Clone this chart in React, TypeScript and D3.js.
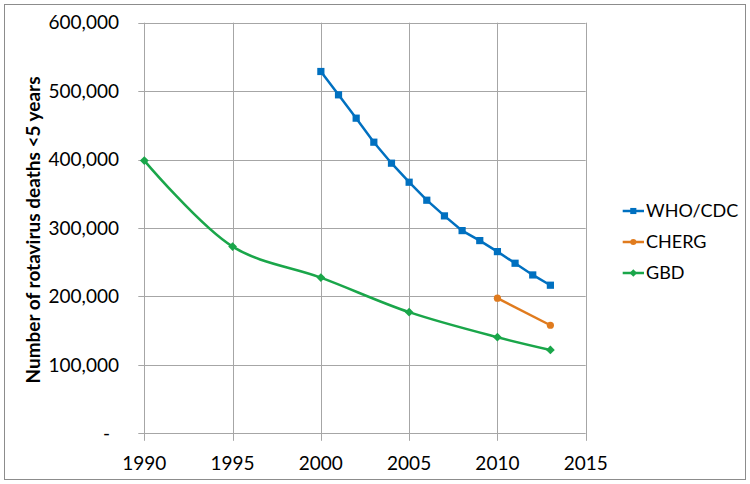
import React from "react";
import * as d3 from "d3";

// Rotavirus deaths among children under 5, by source
const whoYears = [2000, 2001, 2002, 2003, 2004, 2005, 2006, 2007, 2008, 2009, 2010, 2011, 2012, 2013];
const whoValues = [528700, 494600, 460500, 425400, 394700, 366900, 340600, 317700, 296200, 281600, 265500, 248500, 231400, 216400];
const chergYears = [2010, 2013];
const chergValues = [197400, 157900];
const gbdYears = [1990, 1995, 2000, 2005, 2010, 2013];
const gbdValues = [398500, 272800, 227500, 177000, 140400, 121800];

const xTicks = [1990, 1995, 2000, 2005, 2010, 2015];
const yTicks = [0, 100000, 200000, 300000, 400000, 500000, 600000];
const seriesNames = ["WHO/CDC", "CHERG", "GBD"];
const colors = ["#0070C0", "#E07B1E", "#1AA64A"];

const width = 750;
const height = 484;
const font = "Lato, 'Noto Sans', sans-serif";
const gridColor = "#A6A6A6";

type Pt = { x: number; y: number };

const zip = (xs: number[], ys: number[]): Pt[] => xs.map((x, i) => ({ x, y: ys[i] }));

const App = () => {
  const x = d3.scaleLinear().domain([1990, 2015]).range([144.3, 585.7]);
  const y = d3.scaleLinear().domain([0, 600000]).range([433.3, 22.7]);

  const straight = d3.line<Pt>().x((d) => x(d.x)).y((d) => y(d.y));
  // excel-style smoothed line for GBD
  const smooth = d3
    .line<Pt>()
    .x((d) => x(d.x))
    .y((d) => y(d.y))
    .curve(d3.curveCatmullRom.alpha(0.5));

  const series = [
    { name: seriesNames[0], pts: zip(whoYears, whoValues), line: straight, marker: "square" },
    { name: seriesNames[1], pts: zip(chergYears, chergValues), line: straight, marker: "circle" },
    { name: seriesNames[2], pts: zip(gbdYears, gbdValues), line: smooth, marker: "diamond" },
  ];

  const fmt = d3.format(",");

  const marker = (kind: string, cx: number, cy: number, color: string, key: string | number, s = 1) => {
    if (kind === "square") {
      const h = 3.6 * s;
      return <rect key={key} x={cx - h} y={cy - h} width={h * 2} height={h * 2} fill={color} />;
    }
    if (kind === "circle") {
      return <circle key={key} cx={cx} cy={cy} r={3.6 * s} fill={color} />;
    }
    const h = 4.4 * s;
    return (
      <path
        key={key}
        d={`M${cx},${cy - h}L${cx + h},${cy}L${cx},${cy + h}L${cx - h},${cy}Z`}
        fill={color}
      />
    );
  };

  const [x0, x1] = x.range();
  const [y0, y1] = y.range();

  return (
    <div style={{ position: "absolute", left: 0, top: 0 }}>
      <svg width={width} height={height} style={{ display: "block", background: "#fff" }}>
        <rect x={4.5} y={4.5} width={741} height={475} fill="#fff" stroke="#8C8C8C" strokeWidth={1} />

        {/* horizontal gridlines with short tick stubs */}
        {yTicks.map((t) => (
          <line
            key={"h" + t}
            x1={x0 - 6}
            x2={x1}
            y1={Math.round(y(t)) + 0.5}
            y2={Math.round(y(t)) + 0.5}
            stroke={gridColor}
            strokeWidth={1}
          />
        ))}
        {/* vertical gridlines */}
        {xTicks.map((t) => (
          <line
            key={"v" + t}
            x1={Math.round(x(t)) + 0.5}
            x2={Math.round(x(t)) + 0.5}
            y1={y1}
            y2={y0 + 7.5}
            stroke={gridColor}
            strokeWidth={1}
          />
        ))}

        {/* y tick labels */}
        {yTicks.map((t) => (
          <text
            key={"yl" + t}
            x={t === 0 ? 110 : 119}
            y={y(t)}
            dy="0.35em"
            textAnchor="end"
            fontFamily={font}
            fontSize={19}
            fill="#000"
          >
            {t === 0 ? "-" : fmt(t)}
          </text>
        ))}

        {/* x tick labels */}
        {xTicks.map((t) => (
          <text
            key={"xl" + t}
            x={x(t)}
            y={470}
            textAnchor="middle"
            fontFamily={font}
            fontSize={19}
            fill="#000"
          >
            {t}
          </text>
        ))}

        {/* y axis title */}
        <text
          transform={`translate(40,${(y0 + y1) / 2 + 2}) rotate(-90)`}
          textAnchor="middle"
          fontFamily={font}
          fontSize={19}
          fontWeight="bold"
          fill="#000"
        >
          Number of rotavirus deaths &lt;5 years
        </text>

        {/* series */}
        {series.map((s, i) => (
          <g key={s.name}>
            <path d={s.line(s.pts) || ""} fill="none" stroke={colors[i]} strokeWidth={2.5} />
            {s.pts.map((p, j) => marker(s.marker, x(p.x), y(p.y), colors[i], j))}
          </g>
        ))}

        {/* legend */}
        {series.map((s, i) => {
          const ly = 211 + i * 31;
          return (
            <g key={"lg" + s.name}>
              <line x1={622.7} x2={644} y1={ly} y2={ly} stroke={colors[i]} strokeWidth={2.5} />
              {marker(s.marker, 633.3, ly, colors[i], "m", 0.85)}
              <text x={646} y={ly} dy="0.35em" fontFamily={font} fontSize={18} fill="#000">
                {s.name}
              </text>
            </g>
          );
        })}
      </svg>
    </div>
  );
};

export default App;
